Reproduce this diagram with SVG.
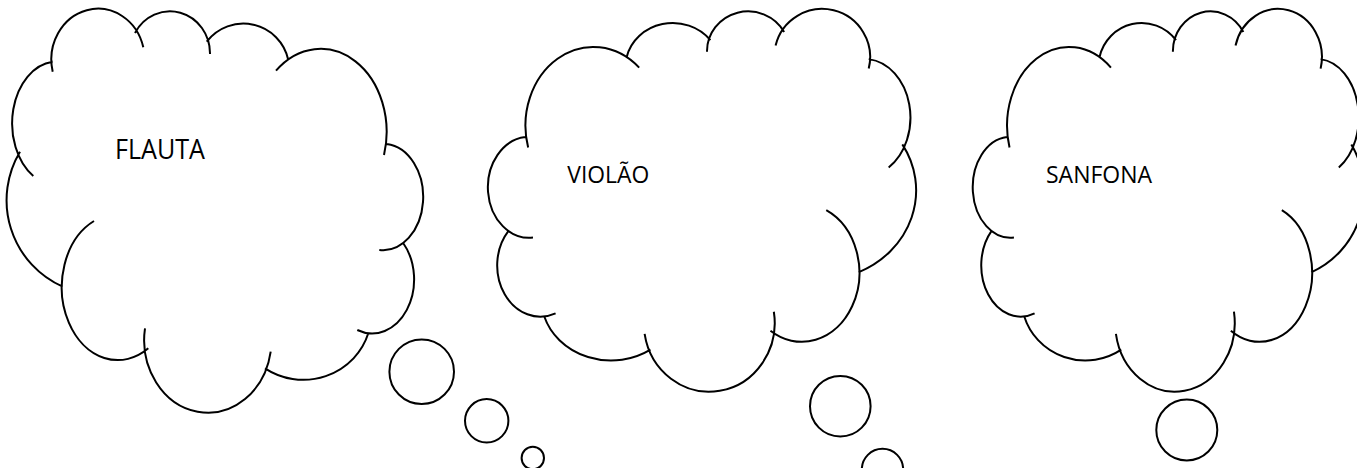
<svg xmlns="http://www.w3.org/2000/svg" xmlns:xlink="http://www.w3.org/1999/xlink" width="1357" height="468" viewBox="0 0 1357 468">
<style>
.c{fill:none;stroke:#000;stroke-width:2;vector-effect:non-scaling-stroke;stroke-linecap:butt}
.b{fill:#fff;stroke:#000;stroke-width:2}
.t{font-family:"Open Sans","Noto Sans","Liberation Sans",sans-serif;fill:#000}
</style>
<defs>
<path id="cloud" class="c" d="M52.7,71.7 A45,49 0 0 1 143.3,47.3
M135,33 A40,42 0 0 1 210,54
M206.7,41.7 A46,46 0 0 1 288.3,60
M276,70.7 A66,83 0 0 1 384,155
M386.7,144 A40,53 0 1 1 379.3,250
M403.3,243.3 A42,54 0 0 1 357.3,330
M368.3,333.3 A68,66 0 0 1 265,368.3
M145,328.3 A63,72 0 0 0 270.7,351.7
M148.3,348.3 A56,73 0 1 1 94,221
M62.7,286.7 A94.6,94.6 0 0 1 20,151.7
M52.7,61.7 A45,62 0 0 0 33.3,176"/>
</defs>
<rect width="1357" height="468" fill="#fff"/>
<g id="cloud-flauta">
<use xlink:href="#cloud" href="#cloud"/>
<text class="t" x="115" y="159.3" font-size="27" textLength="90" lengthAdjust="spacingAndGlyphs">FLAUTA</text>
</g>
<g id="cloud-violao">
<use xlink:href="#cloud" href="#cloud" transform="matrix(-1.028,0,0,0.9475,922.9,0.667)"/>
<text class="t" x="567.3" y="183.3" font-size="23.4" textLength="82" lengthAdjust="spacingAndGlyphs">VIOLÃO</text>
</g>
<g id="cloud-sanfona">
<use xlink:href="#cloud" href="#cloud" transform="matrix(-0.939,0,0,0.9475,1370.1,0.667)"/>
<text class="t" x="1046" y="183.3" font-size="23.4" textLength="106" lengthAdjust="spacingAndGlyphs">SANFONA</text>
</g>
<g id="bubbles">
<circle class="b" cx="421.7" cy="371.7" r="32.3"/>
<circle class="b" cx="486.7" cy="420.8" r="21.7"/>
<circle class="b" cx="532.8" cy="458" r="11.2"/>
<circle class="b" cx="840.3" cy="406.2" r="30.3"/>
<circle class="b" cx="882.5" cy="469.5" r="20.7"/>
<circle class="b" cx="1186.8" cy="430" r="30.5"/>
</g>
</svg>
